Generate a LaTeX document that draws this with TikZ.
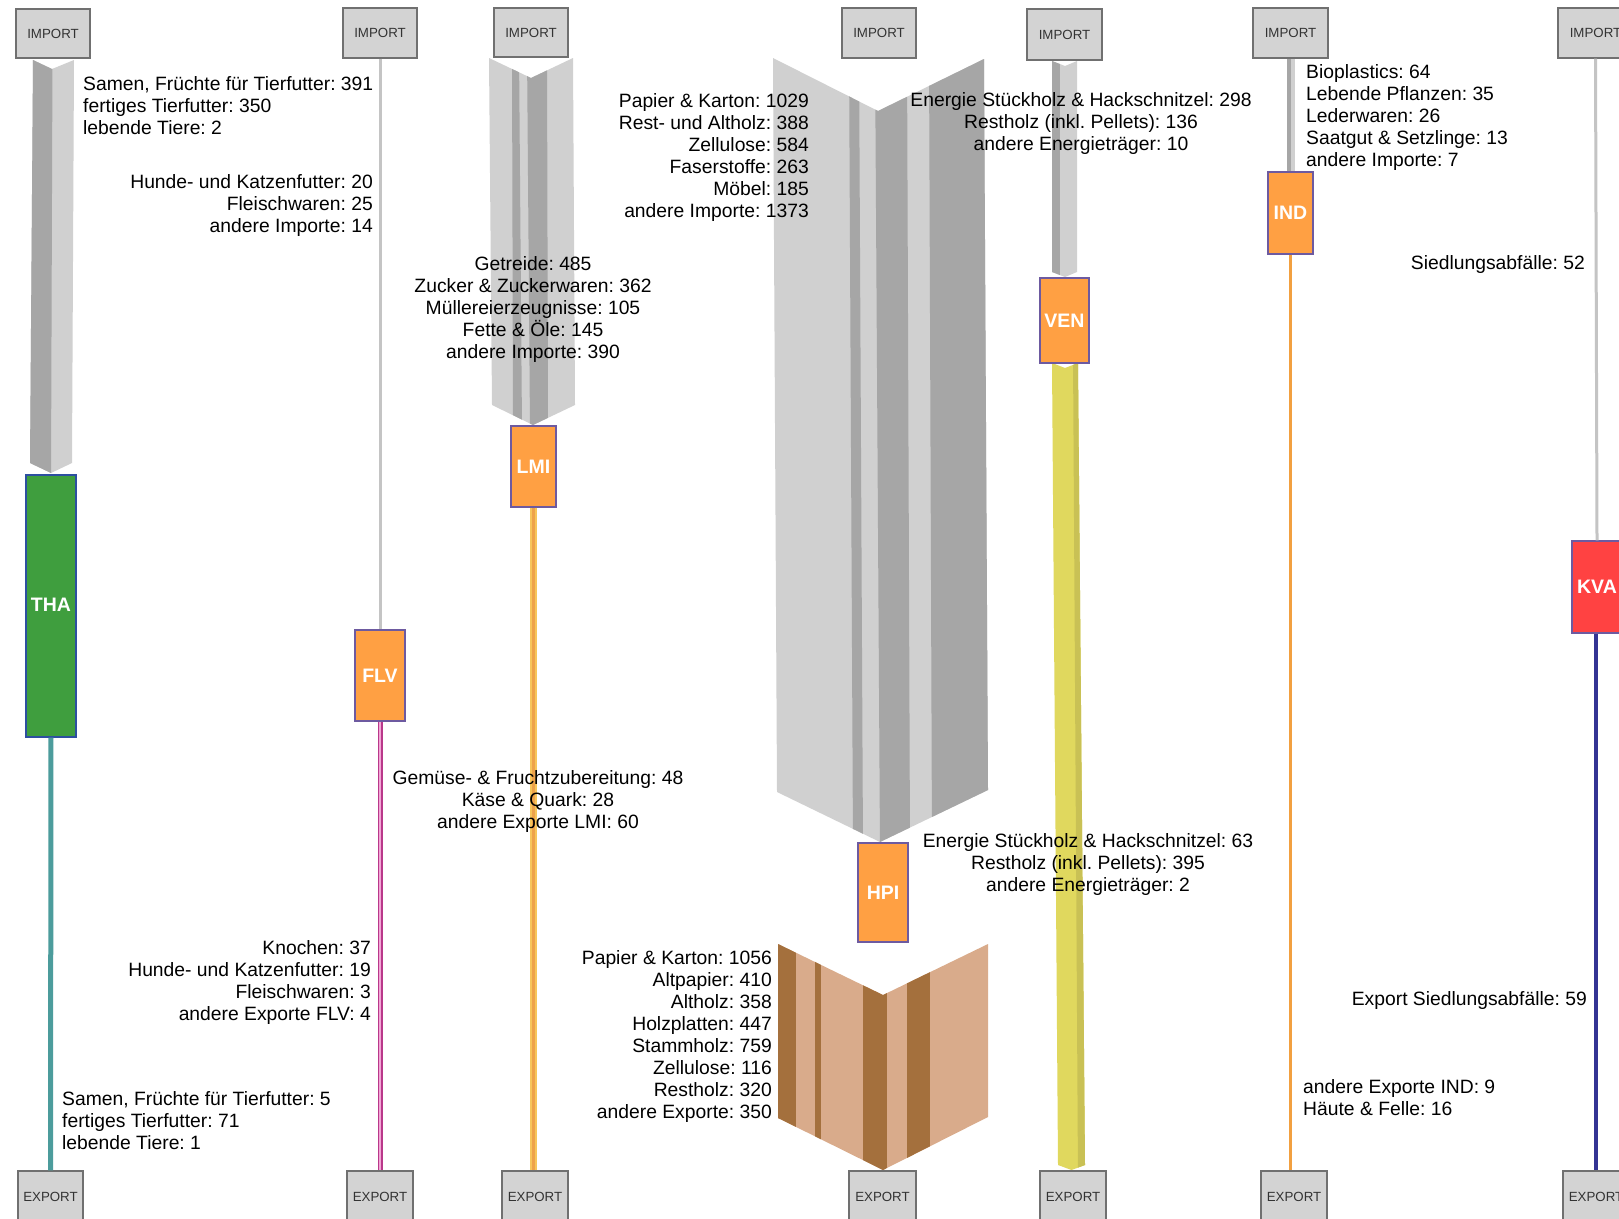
\documentclass[tikz,border=0pt]{standalone}
\usepackage{fontspec}
\setmainfont{Liberation Sans}
\usetikzlibrary{calc}
\frenchspacing

% palette
\definecolor{iofill}{HTML}{D3D3D3}
\definecolor{ioline}{HTML}{707070}
\definecolor{iotext}{HTML}{333333}
\definecolor{gdark}{HTML}{A6A6A6}
\definecolor{glight}{HTML}{D0D0D0}
\definecolor{gline}{HTML}{C4C4C4}
\definecolor{procorange}{HTML}{FFA043}
\definecolor{procgreen}{HTML}{3F9E3E}
\definecolor{procred}{HTML}{FF4242}
\definecolor{procedge}{HTML}{6D5AA0}
\definecolor{greenedge}{HTML}{2D4FA0}
\definecolor{bdark}{HTML}{A4703D}
\definecolor{blight}{HTML}{D9AB8B}
\definecolor{yel}{HTML}{E0D85E}
\definecolor{yeldark}{HTML}{C9C155}
\definecolor{teal}{HTML}{4C9C9C}
\definecolor{pinkout}{HTML}{B9388A}
\definecolor{pinkin}{HTML}{F2A6D6}
\definecolor{lmiout}{HTML}{F7C55A}
\definecolor{lmiin}{HTML}{EEA24A}
\definecolor{indline}{HTML}{F2A040}
\definecolor{navy}{HTML}{343494}

\begin{document}
\begin{tikzpicture}[x=1pt,y=-1pt,
  iobox/.style={draw=ioline, fill=iofill, line width=1.4pt, inner sep=0pt,
    font=\fontsize{13.3}{15}\selectfont, text=iotext},
  proc/.style={draw=procedge, fill=procorange, line width=1.2pt, inner sep=0pt,
    font=\fontsize{19.5}{22}\selectfont\bfseries, text=white},
  lbl/.style={inner sep=0pt, font=\fontsize{19.3}{22}\selectfont\frenchspacing, text=black}]

\clip (0,0) rectangle (1619,1218);
\fill[white] (0,0) rectangle (1619,1218);

% ---- import band into THA
\fill[glight] (33,60) -- (52,69) -- (74,60) -- (72,463) -- (51,473) -- (30,463) -- cycle;
\begin{scope}
  \clip (33,60) -- (52,69) -- (74,60) -- (72,463) -- (51,473) -- (30,463) -- cycle;
  \fill[gdark] (0,50) -- (52.5,50) -- (51,480) -- (0,480) -- cycle;
\end{scope}

% ---- import band into LMI
\fill[glight] (489,58) -- (531,78) -- (573,58) -- (575,405) -- (533,425) -- (492,405) -- cycle;
\begin{scope}
  \clip (489,58) -- (531,78) -- (573,58) -- (575,405) -- (533,425) -- (492,405) -- cycle;
  \fill[gdark] (512,50) -- (519,50) -- (522,430) -- (513,430) -- cycle;
  \fill[gdark] (527,50) -- (547,50) -- (548,430) -- (530,430) -- cycle;
\end{scope}

% ---- import band into HPI
\fill[glight] (773,58) -- (878,111) -- (984,59) -- (988,790) -- (880,842) -- (777,792) -- cycle;
\begin{scope}
  \clip (773,58) -- (878,111) -- (984,59) -- (988,790) -- (880,842) -- (777,792) -- cycle;
  \fill[gdark] (849,50) -- (859,50) -- (863,850) -- (853,850) -- cycle;
  \fill[gdark] (875,50) -- (907,50) -- (910,850) -- (880,850) -- cycle;
  \fill[gdark] (929,50) -- (995,50) -- (1000,850) -- (932,850) -- cycle;
\end{scope}

% ---- export band out of HPI
\fill[blight] (778,944) -- (883,995) -- (988,944) -- (988,1117) -- (883,1170) -- (778,1118) -- cycle;
\begin{scope}
  \clip (778,944) -- (883,995) -- (988,944) -- (988,1117) -- (883,1170) -- (778,1118) -- cycle;
  \fill[bdark] (770,930) rectangle (796,1180);
  \fill[bdark] (815,930) rectangle (821,1180);
  \fill[bdark] (863,930) rectangle (887,1180);
  \fill[bdark] (907,930) rectangle (930,1180);
\end{scope}

% ---- import band into VEN
\fill[glight] (1052,61) -- (1065,66) -- (1077,61) -- (1077,272) -- (1065,277) -- (1052,272) -- cycle;
\begin{scope}
  \clip (1052,61) -- (1065,66) -- (1077,61) -- (1077,272) -- (1065,277) -- (1052,272) -- cycle;
  \fill[gdark] (1045,50) rectangle (1060,290);
\end{scope}

% ---- export band out of VEN
\fill[yel] (1052,363) -- (1065,368) -- (1078,363) -- (1085,1165) -- (1071.5,1170) -- (1058,1165) -- cycle;
\begin{scope}
  \clip (1052,363) -- (1065,368) -- (1078,363) -- (1085,1165) -- (1071.5,1170) -- (1058,1165) -- cycle;
  \fill[yeldark] (1073,355) -- (1100,355) -- (1100,1180) -- (1078,1180) -- cycle;
\end{scope}

% ---- import band into IND
\fill[glight] (1287,58) rectangle (1295,172);
\fill[gdark] (1287,58) rectangle (1291,172);

% ---- boundary boxes
\node[iobox, minimum width=74pt, minimum height=49pt] (thaimp) at (53,33.5) {IMPORT};
\node[iobox, minimum width=74pt, minimum height=50pt] (flvimp) at (380,33) {IMPORT};
\node[iobox, minimum width=74pt, minimum height=49pt] (lmiimp) at (531,32.5) {IMPORT};
\node[iobox, minimum width=74pt, minimum height=50pt] (hpiimp) at (879,33) {IMPORT};
\node[iobox, minimum width=75pt, minimum height=51pt] (venimp) at (1064.5,34.5) {IMPORT};
\node[iobox, minimum width=75pt, minimum height=50pt] (indimp) at (1290.5,33) {IMPORT};
\node[iobox, minimum width=75pt, minimum height=50pt] (kvaimp) at (1595.5,33) {IMPORT};

\node[iobox, minimum width=65pt, minimum height=52pt] (thaexp) at (50.5,1197) {EXPORT};
\node[iobox, minimum width=66pt, minimum height=52pt] (flvexp) at (380,1197) {EXPORT};
\node[iobox, minimum width=66pt, minimum height=52pt] (lmiexp) at (535,1197) {EXPORT};
\node[iobox, minimum width=67pt, minimum height=52pt] (hpiexp) at (882.5,1197) {EXPORT};
\node[iobox, minimum width=66pt, minimum height=52pt] (venexp) at (1073,1197) {EXPORT};
\node[iobox, minimum width=66pt, minimum height=52pt] (indexp) at (1294,1197) {EXPORT};
\node[iobox, minimum width=66pt, minimum height=52pt] (kvaexp) at (1596,1197) {EXPORT};

% ---- processes
\node[proc, fill=procgreen, draw=greenedge, minimum width=50pt, minimum height=262pt] (tha) at (51,606) {\raisebox{3pt}{THA}};
\node[proc, minimum width=50pt, minimum height=91pt] (flv) at (380,675.5) {FLV};
\node[proc, minimum width=45pt, minimum height=81pt] (lmi) at (533.5,466.5) {LMI};
\node[proc, minimum width=50pt, minimum height=99pt] (hpi) at (883,892.5) {\raisebox{-3pt}{HPI}};
\node[proc, minimum width=49pt, minimum height=85pt] (ven) at (1064.5,320.5) {\raisebox{-2pt}{VEN}};
\node[proc, minimum width=45pt, minimum height=82pt] (ind) at (1290.5,213) {IND};
\node[proc, fill=procred, minimum width=50pt, minimum height=92pt] (kva) at (1597,587) {KVA};

% ---- thin flows
\draw[gline, line width=3pt] (flvimp.south) -- (flv.north);
\draw[gline, line width=3pt] (kvaimp.south) -- (kva.north);
\draw[teal, line width=5pt] (tha.south) -- (thaexp.north);
\draw[pinkout, line width=5pt] (flv.south) -- (flvexp.north);
\draw[pinkin, line width=1.6pt] (flv.south) -- (flvexp.north);
\draw[lmiout, line width=7pt] (lmi.south) -- (lmiexp.north -| lmi.south);
\draw[lmiin, line width=3.5pt] (lmi.south) -- (lmiexp.north -| lmi.south);
\draw[indline, line width=3pt] (ind.south) -- (indexp.north -| ind.south);
\draw[navy, line width=4.5pt] (kva.south -| kvaexp.north) -- (kvaexp.north);

% ---- flow labels, imports
\node[lbl, anchor=north west, align=left] (lthaimp) at (83,76)
  {Samen, Früchte für Tierfutter: 391\\fertiges Tierfutter: 350\\lebende Tiere: 2};
\node[lbl, anchor=north east, align=right] (lflvimp) at (373,174)
  {Hunde- und Katzenfutter: 20\\Fleischwaren: 25\\andere Importe: 14};
\node[lbl, anchor=north, align=center] (llmiimp) at (533,256)
  {Getreide: 485\\Zucker \& Zuckerwaren: 362\\Müllereierzeugnisse: 105\\Fette \& Öle: 145\\andere Importe: 390};
\node[lbl, anchor=north east, align=right] (lhpiimp) at (809,93)
  {Papier \& Karton: 1029\\Rest- und Altholz: 388\\Zellulose: 584\\Faserstoffe: 263\\Möbel: 185\\andere Importe: 1373};
\node[lbl, anchor=north, align=center] (lvenimp) at (1081,92)
  {Energie Stückholz \& Hackschnitzel: 298\\Restholz (inkl. Pellets): 136\\andere Energieträger: 10};
\node[lbl, anchor=north west, align=left] (lindimp) at (1306,64)
  {Bioplastics: 64\\Lebende Pflanzen: 35\\Lederwaren: 26\\Saatgut \& Setzlinge: 13\\andere Importe: 7};
\node[lbl, anchor=north east, align=right] (lkvaimp) at (1585,255)
  {Siedlungsabfälle: 52};

% ---- flow labels, exports
\node[lbl, anchor=north west, align=left] (lthaexp) at (62,1091)
  {Samen, Früchte für Tierfutter: 5\\fertiges Tierfutter: 71\\lebende Tiere: 1};
\node[lbl, anchor=north east, align=right] (lflvexp) at (371,940)
  {Knochen: 37\\Hunde- und Katzenfutter: 19\\Fleischwaren: 3\\andere Exporte FLV: 4};
\node[lbl, anchor=north, align=center] (llmiexp) at (538,770)
  {Gemüse- \& Fruchtzubereitung: 48\\Käse \& Quark: 28\\andere Exporte LMI: 60};
\node[lbl, anchor=north east, align=right] (lhpiexp) at (772,950)
  {Papier \& Karton: 1056\\Altpapier: 410\\Altholz: 358\\Holzplatten: 447\\Stammholz: 759\\Zellulose: 116\\Restholz: 320\\andere Exporte: 350};
\node[lbl, anchor=north, align=center] (lvenexp) at (1088,833)
  {Energie Stückholz \& Hackschnitzel: 63\\Restholz (inkl. Pellets): 395\\andere Energieträger: 2};
\node[lbl, anchor=north west, align=left] (lindexp) at (1303,1079)
  {andere Exporte IND: 9\\Häute \& Felle: 16};
\node[lbl, anchor=north east, align=right] (lkvaexp) at (1587,991)
  {Export Siedlungsabfälle: 59};

\end{tikzpicture}
\end{document}
